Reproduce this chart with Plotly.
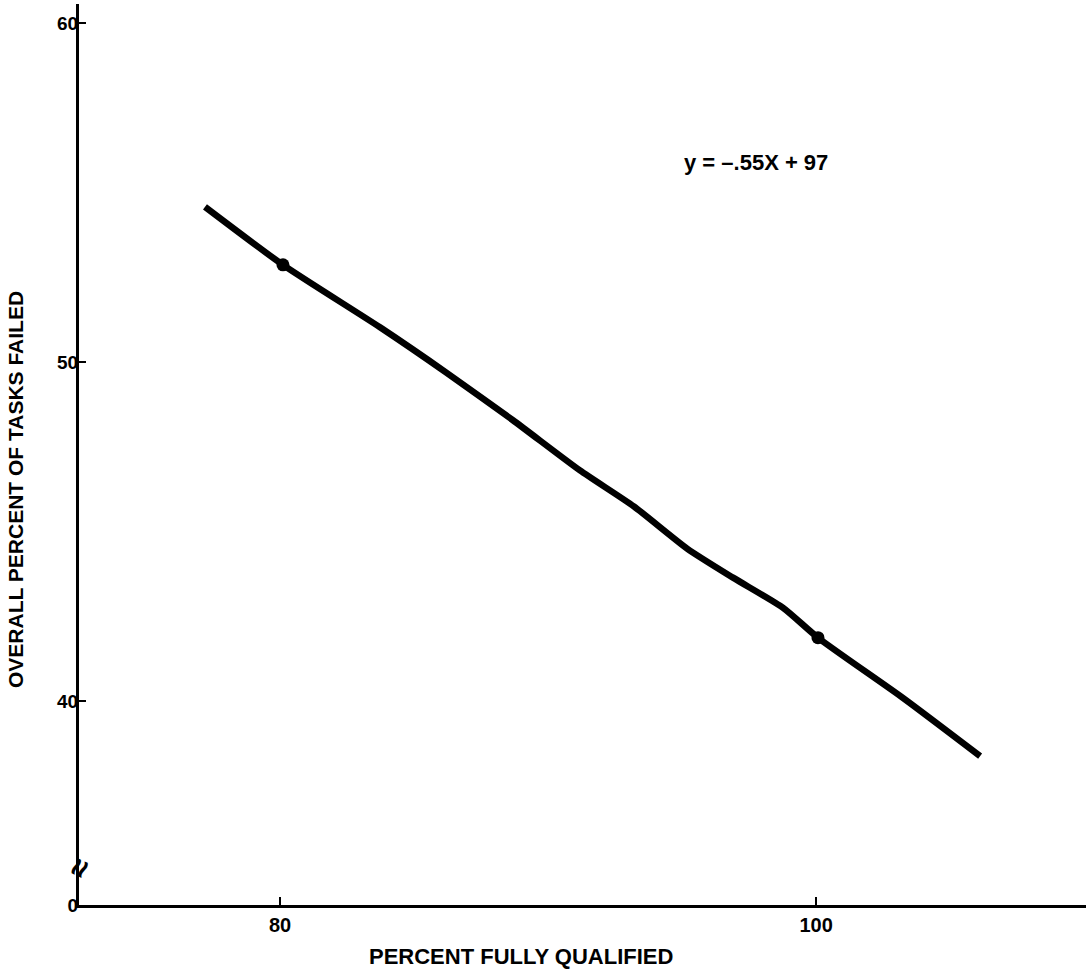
import plotly.graph_objects as go

# Traced regression line (percent fully qualified vs. overall percent of tasks failed)
line_x = [77.2, 80.11, 83.73, 86.23, 88.69, 91.19, 93.2, 95.2, 96.9, 98.77, 100.07, 103.25, 106.12]
line_y = [54.58, 52.87, 51.03, 49.68, 48.29, 46.81, 45.75, 44.5, 43.65, 42.76, 41.88, 40.10, 38.39]

# Marked points on the line
point_x = [80.11, 100.07]
point_y = [52.87, 41.88]

x_tickvals = [80, 100]
x_ticktext = ["80", "100"]
y_tickvals = [34, 40, 50, 60]
y_ticktext = ["0", "40", "50", "60"]

equation = "y = \u2013.55X + 97"
x_title = "PERCENT FULLY QUALIFIED"
y_title = "OVERALL PERCENT OF TASKS FAILED"

FONT = "Liberation Sans, Arial, sans-serif"
W, H = 1089, 974
ML, MR, MT, MB = 79, 3, 4, 69

fig = go.Figure()
fig.add_trace(go.Scatter(x=line_x, y=line_y, mode="lines",
                         line=dict(color="black", width=6.5, shape="spline", smoothing=0.6),
                         hoverinfo="skip"))
fig.add_trace(go.Scatter(x=point_x, y=point_y, mode="markers",
                         marker=dict(color="black", size=13), hoverinfo="skip"))

fig.update_layout(
    width=W, height=H,
    margin=dict(l=ML, r=MR, t=MT, b=MB, pad=0),
    paper_bgcolor="white", plot_bgcolor="white",
    showlegend=False,
    font=dict(family=FONT, color="black", size=19, weight="bold"),
)
fig.update_xaxes(range=[72.5, 110.07], showgrid=False, zeroline=False,
                 showline=True, linecolor="black", linewidth=3,
                 tickvals=x_tickvals, ticktext=x_ticktext,
                 ticks="inside", ticklen=8, tickwidth=2, tickcolor="black",
                 tickfont=dict(family=FONT, size=20, color="black", weight="bold"))
fig.update_yaxes(range=[34.0, 60.56], showgrid=False, zeroline=False,
                 showline=True, linecolor="black", linewidth=3,
                 tickvals=y_tickvals, ticktext=y_ticktext,
                 ticks="inside", ticklen=7, tickwidth=2, tickcolor="black",
                 tickfont=dict(family=FONT, size=19, color="black", weight="bold"))
try:
    fig.update_yaxes(ticklabelstandoff=-6)
except ValueError:
    fig.update_yaxes(ticklabelstandoff=0)


def px_to_paper_x(px):
    return (px - ML) / (W - ML - MR)


def py_to_paper_y(py):
    return 1 - (py - MT) / (H - MT - MB)


fig.add_annotation(x=px_to_paper_x(756), y=py_to_paper_y(162), xref="paper", yref="paper",
                   xanchor="center", yanchor="middle",
                   text=equation, showarrow=False,
                   font=dict(family=FONT, size=22, color="black", weight="bold"))
fig.add_annotation(x=px_to_paper_x(521), y=py_to_paper_y(956), xref="paper", yref="paper",
                   xanchor="center", yanchor="middle",
                   text=x_title, showarrow=False,
                   font=dict(family=FONT, size=22, color="black", weight="bold"))
fig.add_annotation(x=px_to_paper_x(15), y=py_to_paper_y(490), xref="paper", yref="paper",
                   xanchor="center", yanchor="middle",
                   text=y_title, showarrow=False, textangle=-90,
                   font=dict(family=FONT, size=21, color="black", weight="bold"))
# axis break mark
fig.add_annotation(x=0, y=35.1, xref="paper", yref="y", text="\u2248",
                   xanchor="center", yanchor="middle",
                   showarrow=False, textangle=-65,
                   font=dict(family=FONT, size=32, color="black", weight="bold"))

fig.write_html("out.html", config={"displayModeBar": False},
               post_script="document.body.style.margin='0px';")
